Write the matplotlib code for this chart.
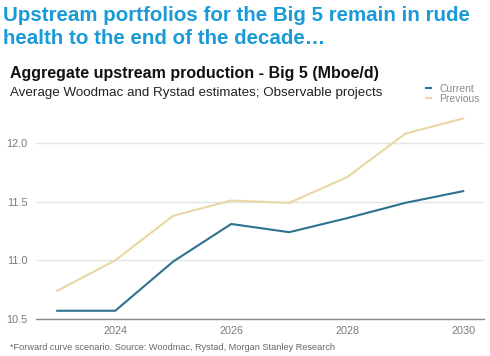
import matplotlib
matplotlib.use("Agg")
import matplotlib.pyplot as plt

years = [2023, 2024, 2025, 2026, 2027, 2028, 2029, 2030]
current = [10.57, 10.57, 10.99, 11.31, 11.24, 11.36, 11.49, 11.59]
previous = [10.74, 11.00, 11.38, 11.51, 11.49, 11.71, 12.08, 12.21]
xticks = [2024, 2026, 2028, 2030]
yticks = [10.5, 11.0, 11.5, 12.0]
ytick_labels = ["10.5", "11.0", "11.5", "12.0"]

plt.rcParams['font.family'] = ['Liberation Sans', 'DejaVu Sans']

fig = plt.figure(figsize=(4.9, 3.56), dpi=100)
ax = fig.add_axes([0.073, 0.104, 0.915, 0.593])

ax.plot(years, previous, color="#e9d6a3", lw=1.5, label="Previous", zorder=3)
ax.plot(years, current, color="#2f7190", lw=1.5, label="Current", zorder=4)

ax.set_xlim(2022.63, 2030.36)
ax.set_ylim(10.5, 12.3)
ax.set_xticks(xticks)
ax.set_xticklabels([str(x) for x in xticks])
ax.set_yticks(yticks)
ax.set_yticklabels(ytick_labels)
ax.tick_params(axis='both', length=0, labelsize=7.8, colors="#7a7a7a")
ax.tick_params(axis='x', pad=5)
ax.tick_params(axis='y', pad=6)
ax.grid(axis='y', color="#e4e4e4", lw=1)
ax.set_axisbelow(True)
for s in ['top', 'right', 'left']:
    ax.spines[s].set_visible(False)
ax.spines['bottom'].set_color("#8a8a8a")
ax.spines['bottom'].set_linewidth(1)

h, l = ax.get_legend_handles_labels()
leg = fig.legend([h[1], h[0]], [l[1], l[0]], loc='upper left', bbox_to_anchor=(0.858, 0.779),
                 frameon=False, fontsize=7.5, handlelength=0.5, handletextpad=0.8,
                 labelspacing=0.0, borderpad=0)
for t in leg.get_texts():
    t.set_color("#8a8a8a")

fig.text(0.006, 0.984, "Upstream portfolios for the Big 5 remain in rude\nhealth to the end of the decade\u2026",
         ha='left', va='top', fontsize=14.8, fontweight='bold', color="#1a9ad6", linespacing=1.3)
fig.text(0.02, 0.794, "Aggregate upstream production - Big 5 (Mboe/d)",
         ha='left', va='center', fontsize=11.5, fontweight='bold', color="#111111")
fig.text(0.02, 0.738, "Average Woodmac and Rystad estimates; Observable projects",
         ha='left', va='center', fontsize=9.6, color="#222222")
fig.text(0.02, 0.025, "*Forward curve scenario. Source: Woodmac, Rystad, Morgan Stanley Research",
         ha='left', va='center', fontsize=6.6, color="#666666")

fig.savefig("out.png", dpi=100)
